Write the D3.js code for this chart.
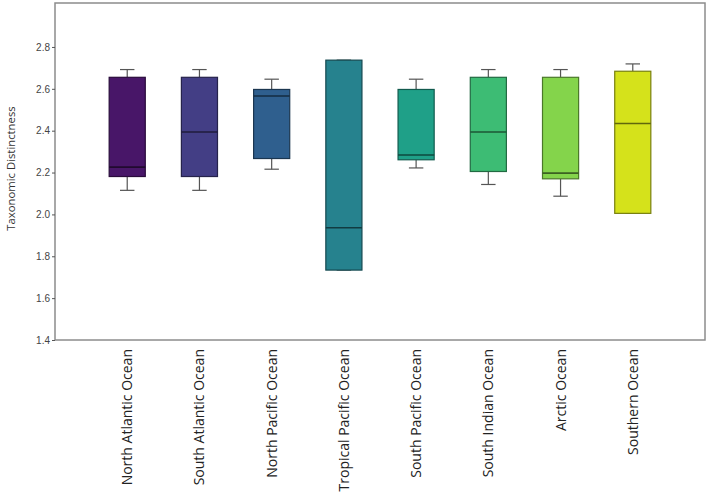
<!DOCTYPE html>
<html>
<head>
<meta charset="utf-8">
<script src="https://cdn.jsdelivr.net/npm/d3@7"></script>
<style>
  body { margin: 0; background: #fff; }
  svg { display: block; }
</style>
</head>
<body>
<div class="chart"></div>
<script>
// data
const oceans = ["North Atlantic Ocean", "South Atlantic Ocean", "North Pacific Ocean",
  "Tropical Pacific Ocean", "South Pacific Ocean", "South Indian Ocean", "Arctic Ocean", "Southern Ocean"];
const whiskerLow  = [2.115, 2.115, 2.216, 1.734, 2.222, 2.143, 2.087, 2.005];
const q1          = [2.181, 2.181, 2.267, 1.734, 2.261, 2.205, 2.170, 2.005];
const median      = [2.226, 2.394, 2.566, 1.936, 2.284, 2.394, 2.197, 2.434];
const q3          = [2.655, 2.655, 2.597, 2.737, 2.597, 2.655, 2.655, 2.684];
const whiskerHigh = [2.692, 2.692, 2.646, 2.737, 2.646, 2.692, 2.692, 2.719];
const colors = ["#481668", "#433e85", "#2f5f8e", "#26828e", "#1fa088", "#3dbc74", "#84d44b", "#d5e21b"];
const yTicks = [1.4, 1.6, 1.8, 2.0, 2.2, 2.4, 2.6, 2.8];

const margin = { top: 3, right: 4, bottom: 154, left: 55 };
const width = 709 - margin.left - margin.right;
const height = 494 - margin.top - margin.bottom;

const svg = d3.select(".chart")
    .append("svg")
    .attr("width", 709)
    .attr("height", 494)
    .append("g")
    .attr("transform", "translate(" + margin.left + "," + margin.top + ")");

const x = d3.scaleLinear()
    .domain([0, oceans.length + 1])
    .range([0, width]);

const y = d3.scaleLinear()
    .domain([1.4, 3.01])
    .range([height, 0]);

const step = x(1) - x(0);
const boxW = step * 0.5;
const capW = step * 0.2;

// frame
svg.append("rect")
    .attr("x", 0).attr("y", 0)
    .attr("width", width).attr("height", height)
    .attr("fill", "none")
    .attr("stroke", "#8c8c8c")
    .attr("stroke-width", 1.5);

// y axis
const yAxis = svg.append("g")
    .call(d3.axisLeft(y).tickValues(yTicks).tickFormat(d3.format(".1f")).tickSize(3).tickSizeOuter(0));
yAxis.select(".domain").remove();
yAxis.selectAll("line").attr("stroke", "#555");
yAxis.selectAll("text")
    .attr("font-family", "Liberation Sans, Arial, sans-serif")
    .attr("font-size", 10)
    .attr("fill", "#444")
    .attr("x", -5);

svg.append("text")
    .attr("transform", "rotate(-90)")
    .attr("x", -(height / 2 - 3))
    .attr("y", -40)
    .attr("text-anchor", "middle")
    .attr("font-family", "Open Sans, sans-serif")
    .attr("font-size", 11.3)
    .attr("fill", "#333")
    .text("Taxonomic Distinctness");

const boxes = svg.append("g")
    .selectAll("g")
    .data(oceans)
    .enter()
    .append("g");

// whiskers
boxes.append("line")
    .attr("x1", (d, i) => x(i + 1)).attr("x2", (d, i) => x(i + 1))
    .attr("y1", (d, i) => y(whiskerLow[i])).attr("y2", (d, i) => y(q1[i]))
    .attr("stroke", "#555").attr("stroke-width", 1.2);
boxes.append("line")
    .attr("x1", (d, i) => x(i + 1)).attr("x2", (d, i) => x(i + 1))
    .attr("y1", (d, i) => y(q3[i])).attr("y2", (d, i) => y(whiskerHigh[i]))
    .attr("stroke", "#555").attr("stroke-width", 1.2);
boxes.append("line")
    .attr("x1", (d, i) => x(i + 1) - capW / 2).attr("x2", (d, i) => x(i + 1) + capW / 2)
    .attr("y1", (d, i) => y(whiskerLow[i])).attr("y2", (d, i) => y(whiskerLow[i]))
    .attr("stroke", "#555").attr("stroke-width", 1.2);
boxes.append("line")
    .attr("x1", (d, i) => x(i + 1) - capW / 2).attr("x2", (d, i) => x(i + 1) + capW / 2)
    .attr("y1", (d, i) => y(whiskerHigh[i])).attr("y2", (d, i) => y(whiskerHigh[i]))
    .attr("stroke", "#555").attr("stroke-width", 1.2);

// boxes
boxes.append("rect")
    .attr("x", (d, i) => x(i + 1) - boxW / 2)
    .attr("y", (d, i) => y(q3[i]))
    .attr("width", boxW)
    .attr("height", (d, i) => y(q1[i]) - y(q3[i]))
    .attr("fill", (d, i) => colors[i])
    .attr("stroke", (d, i) => d3.color(colors[i]).darker(1.6))
    .attr("stroke-width", 1.2);

// medians
boxes.append("line")
    .attr("x1", (d, i) => x(i + 1) - boxW / 2).attr("x2", (d, i) => x(i + 1) + boxW / 2)
    .attr("y1", (d, i) => y(median[i])).attr("y2", (d, i) => y(median[i]))
    .attr("stroke", (d, i) => d3.color(colors[i]).darker(2.2))
    .attr("stroke-width", 1.6);

// category labels
svg.append("g")
    .selectAll("text")
    .data(oceans)
    .enter()
    .append("text")
    .attr("transform", (d, i) => "translate(" + (x(i + 1) + 5) + "," + (height + 9) + ") rotate(-90)")
    .attr("text-anchor", "end")
    .attr("font-family", "Open Sans, sans-serif")
    .attr("font-size", 14)
    .attr("fill", "#222")
    .text(d => d);
</script>
</body>
</html>
